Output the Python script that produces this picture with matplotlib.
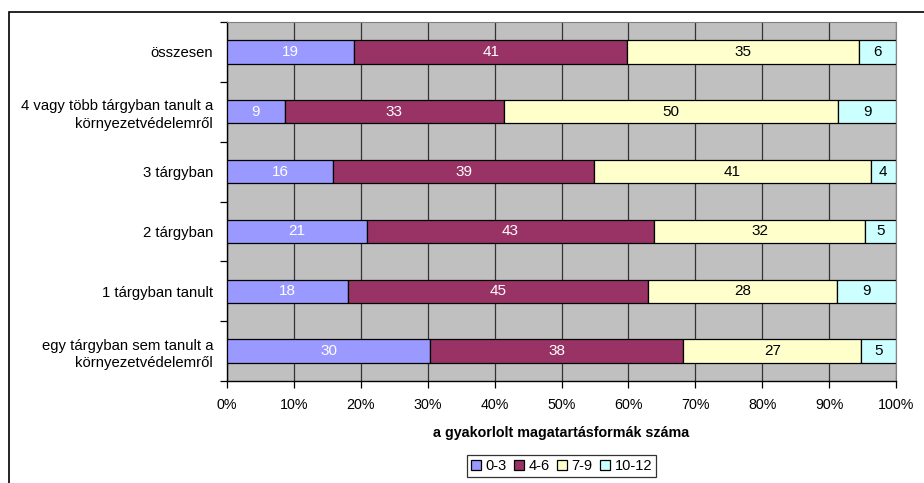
import numpy as np
import matplotlib
matplotlib.use("Agg")
import matplotlib.pyplot as plt
from matplotlib.patches import Rectangle

plt.rcParams['font.family'] = ['Liberation Sans', 'DejaVu Sans']

# Data (top to bottom, percentages)
categories = [
    "összesen",
    "4 vagy több tárgyban tanult a\nkörnyezetvédelemről",
    "3 tárgyban",
    "2 tárgyban",
    "1 tárgyban tanult",
    "egy tárgyban sem tanult a\nkörnyezetvédelemről",
]
series_names = ["0-3", "4-6", "7-9", "10-12"]
v_0_3 = [19.0, 8.6, 15.9, 20.9, 18.1, 30.4]
v_4_6 = [40.9, 32.8, 39.0, 43.1, 44.9, 37.9]
v_7_9 = [34.6, 50.0, 41.3, 31.6, 28.2, 26.6]
v_10_12 = [5.6, 8.6, 3.8, 4.6, 8.8, 5.2]
tick_labels = ["0%", "10%", "20%", "30%", "40%", "50%", "60%", "70%", "80%", "90%", "100%"]

colors = ["#9999FF", "#993366", "#FFFFCC", "#CCFFFF"]
text_colors = ["white", "white", "black", "black"]

fig = plt.figure(figsize=(9.24, 4.83), dpi=100)
ax = fig.add_axes([227 / 924, 1 - 381 / 483, (896 - 227) / 924, (381 - 22) / 483])
ax.set_facecolor("#C0C0C0")

data = np.array([v_0_3, v_4_6, v_7_9, v_10_12])
pct = data / data.sum(axis=0) * 100
y = np.arange(len(categories))

left = np.zeros(len(categories))
for i, name in enumerate(series_names):
    bars = ax.barh(y, pct[i], left=left, height=0.39, color=colors[i],
                   edgecolor="black", linewidth=0.9, label=name, zorder=3)
    for b, v in zip(bars, data[i]):
        ax.text(b.get_x() + b.get_width() / 2, b.get_y() + b.get_height() / 2,
                f"{v:.0f}", ha="center", va="center", color=text_colors[i],
                fontsize=11, zorder=4)
    left += pct[i]

ax.set_xlim(0, 100)
ax.set_ylim(len(categories) - 0.5, -0.5)

# vertical gridlines
ax.set_xticks(np.arange(0, 101, 10))
ax.set_xticklabels(tick_labels, fontsize=10.3)
ax.xaxis.grid(True, color="#333333", linewidth=0.9, zorder=1)
ax.set_axisbelow(True)

# y labels at centres, ticks at boundaries
ax.set_yticks(y)
ax.set_yticklabels(categories, fontsize=10.7, ha="right", multialignment="right",
                   linespacing=1.35)
ax.set_yticks(np.arange(-0.5, len(categories), 1), minor=True)
ax.tick_params(axis="y", which="major", length=0, pad=10)
ax.tick_params(axis="y", which="minor", length=5, direction="out", width=0.9)
ax.tick_params(axis="x", length=5, direction="out", width=0.9, pad=7)

for s in ["top", "right"]:
    ax.spines[s].set_color("#808080")
for s in ["left", "bottom"]:
    ax.spines[s].set_color("black")
    ax.spines[s].set_linewidth(1.0)

ax.set_xlabel("a gyakorlolt magatartásformák száma", fontsize=10.3, fontweight="bold", labelpad=10)

leg = ax.legend(loc="center", bbox_to_anchor=(0.5, -0.237), ncol=4, fontsize=10.5,
                frameon=True, fancybox=False, edgecolor="black", handlelength=0.7,
                handleheight=0.7, handletextpad=0.3, columnspacing=0.5,
                borderpad=0.25, borderaxespad=0)
leg.get_frame().set_linewidth(0.9)

# outer chart frame
fig.patches.append(Rectangle((9 / 924, -0.05), 1.2, 1 - 12 / 483 + 0.05,
                             transform=fig.transFigure, fill=False,
                             edgecolor="black", linewidth=1.2))

fig.savefig("out.png", dpi=100)
